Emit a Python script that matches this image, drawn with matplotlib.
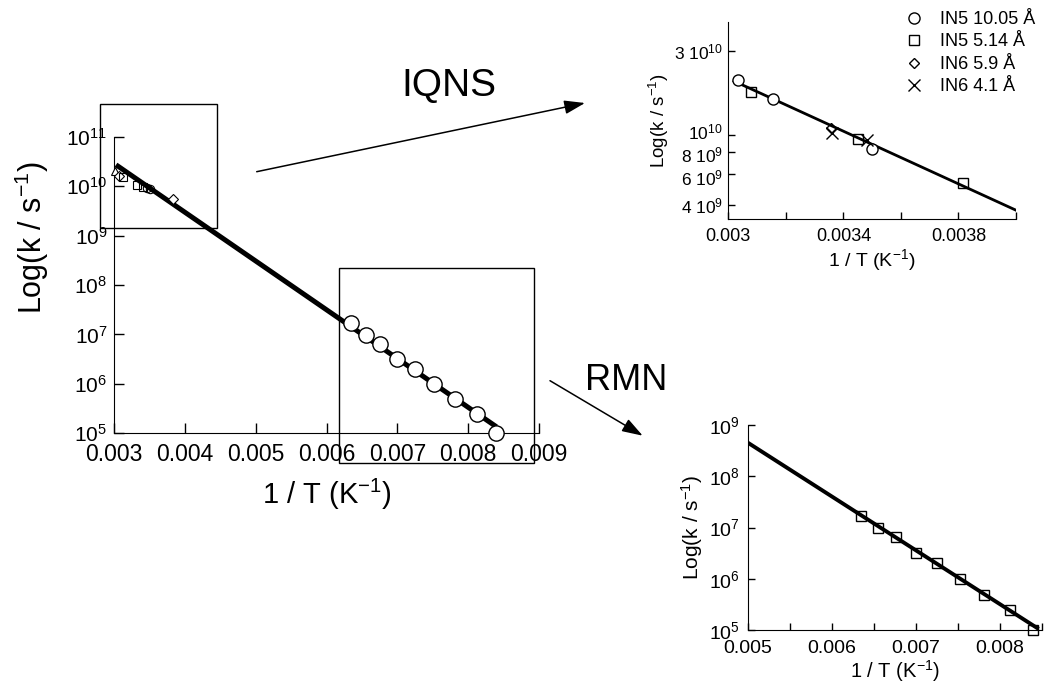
import matplotlib
matplotlib.use("Agg")
import matplotlib.pyplot as plt
from matplotlib.patches import Rectangle
from matplotlib.transforms import ScaledTranslation

plt.rcParams['font.family'] = ['Liberation Sans', 'DejaVu Sans']
plt.rcParams['mathtext.fontset'] = 'custom'
plt.rcParams['mathtext.rm'] = 'Liberation Sans'
plt.rcParams['mathtext.it'] = 'Liberation Sans:italic'
plt.rcParams['mathtext.default'] = 'regular'

# RMN data (1/T, k)
rmn_x = [0.00634, 0.00655, 0.00676, 0.00700, 0.00725, 0.00752, 0.00781, 0.00812, 0.00839]
rmn_k = [1.7e7, 9.6e6, 6.4e6, 3.2e6, 2.0e6, 9.9e5, 4.9e5, 2.5e5, 1.0e5]

# IQNS data, zoomed panel
in5_105_x = [0.003035, 0.003157, 0.003501]
in5_105_k = [2.05e10, 1.60e10, 8.4e9]
in5_514_x = [0.00308, 0.003452, 0.003817]
in5_514_k = [1.75e10, 9.5e9, 5.33e9]
in6_59_x = [0.003358]
in6_59_k = [1.1e10]
in6_41_x = [0.003362, 0.003483]
in6_41_k = [1.03e10, 9.4e9]

# IQNS points as drawn small in the overview plot
ov_tri_x = [0.00301]
ov_tri_k = [2.0e10]
ov_dia_x = [0.00306, 0.00383]
ov_dia_k = [1.6e10, 5.4e9]
ov_sq_x = [0.00312, 0.00332, 0.00340]
ov_sq_k = [1.5e10, 1.05e10, 9.6e9]
ov_circ_x = [0.00346, 0.00350]
ov_circ_k = [9.2e9, 8.6e9]

# fitted Arrhenius lines (end points)
fit_main_x = [0.003024, 0.0084]
fit_main_k = [2.7e10, 1.35e5]
fit_iqns_x = [0.00302, 0.0040]
fit_iqns_k = [2.03e10, 3.75e9]
fit_rmn_x = [0.005, 0.00844]
fit_rmn_k = [4.5e8, 1.1e5]

main_yticks = [1e5, 1e6, 1e7, 1e8, 1e9, 1e10, 1e11]
main_ylabels = ['10$^{5}$', '10$^{6}$', '10$^{7}$', '10$^{8}$', '10$^{9}$', '10$^{10}$', '10$^{11}$']
main_xticks = [0.003, 0.004, 0.005, 0.006, 0.007, 0.008, 0.009]

iqns_yticks = [4e9, 6e9, 8e9, 1e10, 3e10]
iqns_ylabels = ['4 10$^{9}$', '6 10$^{9}$', '8 10$^{9}$', '10$^{10}$', '3 10$^{10}$']
iqns_xticks = [0.003, 0.0034, 0.0038]
iqns_xminor = [0.0032, 0.0036, 0.0040]

rmn_yticks = [1e5, 1e6, 1e7, 1e8, 1e9]
rmn_ylabels = ['10$^{5}$', '10$^{6}$', '10$^{7}$', '10$^{8}$', '10$^{9}$']
rmn_xticks = [0.005, 0.006, 0.007, 0.008]
rmn_xminor = [0.0055, 0.0065, 0.0075, 0.0085]

W, H = 1049, 689
fig = plt.figure(figsize=(W / 100, H / 100), dpi=100)


def box(l, t, r, b):
    # pixel box (from top-left) -> figure fraction rect
    return [l / W, 1 - b / H, (r - l) / W, (b - t) / H]


def style(ax, size, tlen):
    ax.spines['top'].set_visible(False)
    ax.spines['right'].set_visible(False)
    ax.tick_params(which='both', direction='in', length=tlen, width=1, labelsize=size)
    ax.set_yscale('log')
    ax.minorticks_off()


# ---- overview plot
ax = fig.add_axes(box(114.3, 136.7, 539, 433.3))
style(ax, 15, 7)
ax.plot(fit_main_x, fit_main_k, 'k-', lw=3.6, solid_capstyle='butt', zorder=2)
ax.plot(rmn_x, rmn_k, 'o', ms=11, mfc='white', mec='k', mew=1, zorder=3, clip_on=False)
ax.plot(ov_tri_x, ov_tri_k, '^', ms=6, mfc='white', mec='k', mew=0.8, zorder=3, clip_on=False)
ax.plot(ov_dia_x, ov_dia_k, 'D', ms=5, mfc='white', mec='k', mew=0.8, zorder=3)
ax.plot(ov_sq_x, ov_sq_k, 's', ms=6, mfc='none', mec='k', mew=0.8, zorder=3)
ax.plot(ov_circ_x, ov_circ_k, 'o', ms=6, mfc='none', mec='k', mew=0.8, zorder=3)
ax.set_xlim(0.003, 0.009)
ax.set_ylim(1e5, 1e11)
ax.set_xticks(main_xticks)
ax.set_xticklabels(['%.3f' % v for v in main_xticks])
ax.set_yticks(main_yticks)
ax.set_yticklabels(main_ylabels)
ax.tick_params(axis='x', pad=7, labelsize=16.5)
ax.tick_params(axis='y', pad=5)
ax.set_xlabel('1 / T (K$^{-1}$)', fontsize=21)
ax.set_ylabel('Log(k / s$^{-1}$)', fontsize=22)
ax.xaxis.set_label_coords(0.5, -0.145)
ax.yaxis.set_label_coords(-0.15, 0.66)

# zoom boxes
for l, t, r, b in [(100, 104, 216.7, 228.3), (339, 267.7, 534, 463.3)]:
    fig.patches.append(Rectangle((l / W, 1 - b / H), (r - l) / W, (b - t) / H,
                                 transform=fig.transFigure, fill=False,
                                 ec='k', lw=1, zorder=1))

# ---- IQNS zoom
ax2 = fig.add_axes(box(728.3, 22, 1016, 219.3))
style(ax2, 13, 5)
ax2.plot(fit_iqns_x, fit_iqns_k, 'k-', lw=2, zorder=2)
ax2.plot(in5_105_x, in5_105_k, 'o', ms=8, mfc='white', mec='k', mew=1, zorder=3, label='IN5 10.05 Å')
ax2.plot(in5_514_x, in5_514_k, 's', ms=7.5, mfc='none', mec='k', mew=1, zorder=3, label='IN5 5.14 Å')
ax2.plot(in6_59_x, in6_59_k, 'D', ms=5.5, mfc='none', mec='k', mew=1, zorder=3, label='IN6 5.9 Å')
ax2.plot(in6_41_x, in6_41_k, 'x', ms=8, mec='k', mew=1, zorder=3, label='IN6 4.1 Å')
ax2.set_xlim(0.003, 0.0040)
ax2.set_ylim(3.33e9, 4.4e10)
ax2.set_xticks(iqns_xticks)
ax2.set_xticklabels(['0.003', '0.0034', '0.0038'])
ax2.set_xticks(iqns_xminor, minor=True)
ax2.set_yticks(iqns_yticks)
ax2.set_yticklabels(iqns_ylabels)
ax2.tick_params(axis='x', pad=6)
ax2.tick_params(axis='y', pad=4, labelsize=12.5)
# crowded labels near 10^10: nudge them apart as in the original
nudge = {'10$^{10}$': 4, '8 10$^{9}$': -2, '6 10$^{9}$': -3}
for lab in ax2.get_yticklabels():
    dy = nudge.get(lab.get_text(), 0)
    if dy:
        lab.set_transform(lab.get_transform() + ScaledTranslation(0, dy / 100, fig.dpi_scale_trans))
ax2.set_xlabel('1 / T (K$^{-1}$)', fontsize=14, labelpad=2)
ax2.set_ylabel('Log(k / s$^{-1}$)', fontsize=13.5, labelpad=2)
ax2.legend(loc='upper right', bbox_to_anchor=(1044 / W, 1 - 2 / H),
           bbox_transform=fig.transFigure, frameon=False, fontsize=13,
           handlelength=1.0, handletextpad=0.9, labelspacing=0.3, borderpad=0)

# ---- RMN zoom
ax3 = fig.add_axes(box(748, 425, 1042, 630))
style(ax3, 14, 5)
ax3.plot(fit_rmn_x, fit_rmn_k, 'k-', lw=2.8, zorder=2)
ax3.plot(rmn_x, rmn_k, 's', ms=7, mfc='none', mec='k', mew=1, zorder=3, clip_on=False)
ax3.set_xlim(0.005, 0.0085)
ax3.set_ylim(1e5, 1e9)
ax3.set_xticks(rmn_xticks)
ax3.set_xticklabels(['%.3f' % v for v in rmn_xticks])
ax3.set_xticks(rmn_xminor, minor=True)
ax3.set_yticks(rmn_yticks)
ax3.set_yticklabels(rmn_ylabels)
ax3.tick_params(axis='x', pad=7)
ax3.tick_params(axis='y', pad=6)
ax3.set_xlabel('1 / T (K$^{-1}$)', fontsize=14.5, labelpad=1)
ax3.set_ylabel('Log(k / s$^{-1}$)', fontsize=15, labelpad=3)

# ---- arrows and captions
fig.text(449 / W, 1 - 86 / H, 'IQNS', fontsize=28, ha='center', va='center')
fig.text(626 / W, 1 - 380 / H, 'RMN', fontsize=26, ha='center', va='center')
arrow = dict(arrowstyle='-|>,head_length=0.9,head_width=0.3', color='k', lw=1.1,
             mutation_scale=14, shrinkA=0, shrinkB=0)
fig.add_artist(plt.Annotation('', xy=(585 / W, 1 - 103 / H), xytext=(256.7 / W, 1 - 171.7 / H),
                              xycoords='figure fraction', textcoords='figure fraction',
                              arrowprops=arrow))
fig.add_artist(plt.Annotation('', xy=(642.7 / W, 1 - 435.7 / H), xytext=(550 / W, 1 - 380.7 / H),
                              xycoords='figure fraction', textcoords='figure fraction',
                              arrowprops=arrow))

fig.savefig('out.png', dpi=100)
